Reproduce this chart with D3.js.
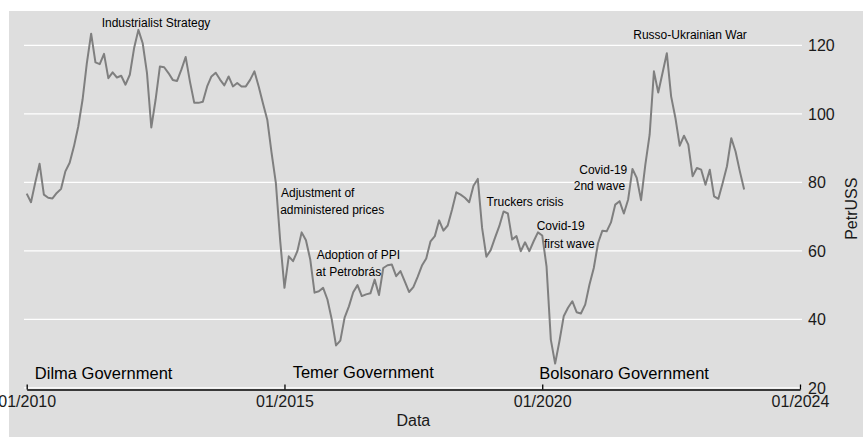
<!DOCTYPE html>
<html>
<head>
<meta charset="utf-8">
<script src="https://cdn.jsdelivr.net/npm/d3@7"></script>
<style>
    body { margin: 0; background: #fff; }
    svg { display: block; font-family: Arial, "Liberation Sans", sans-serif; }
</style>
</head>
<body>
<div class="graph"></div>
<script>
"use strict";

// Monthly PetrUSS, starting 01/2010 (index 0)
var petrUSS = [
    76.7, 74.2, 80.0, 85.4, 76.4, 75.5, 75.3, 76.9, 78.1, 83.2, 85.7, 90.5,
    96.3, 104.1, 114.8, 123.4, 115.0, 114.5, 117.5, 110.4, 112.1, 110.6, 111.1, 108.5,
    111.4, 119.2, 124.5, 120.6, 111.9, 96.0, 104.1, 113.8, 113.6, 111.9, 109.9, 109.6,
    112.9, 116.6, 109.4, 103.2, 103.2, 103.5, 108.0, 110.9, 112.0, 110.0, 108.3, 110.9,
    108.0, 109.0, 108.0, 108.0, 109.9, 112.4, 108.0, 103.0, 98.3, 88.6, 79.8, 63.0,
    49.2, 58.4, 57.0, 59.9, 65.4, 63.1, 57.5, 47.8, 48.2, 49.2, 45.8, 40.0,
    32.4, 33.8, 40.5, 43.8, 47.9, 50.0, 46.8, 47.3, 47.6, 51.6, 47.1, 55.0,
    55.8, 56.0, 52.6, 54.1, 51.1, 48.0, 49.4, 52.4, 55.7, 57.8, 62.8, 64.3,
    68.9, 65.9, 67.4, 72.0, 77.1, 76.4, 75.5, 74.2, 79.0, 81.0, 66.7, 58.3,
    60.2, 63.8, 67.2, 71.5, 70.9, 63.3, 64.3, 59.9, 62.5, 59.9, 62.8, 65.4,
    64.5, 55.5, 34.1, 27.1, 33.6, 40.9, 43.4, 45.3, 42.1, 41.7, 44.3, 50.2,
    55.0, 62.3, 65.9, 65.7, 68.3, 73.5, 74.5, 70.9, 75.0, 83.9, 81.3, 74.8,
    85.2, 93.9, 112.4, 106.2, 111.9, 117.7, 105.1, 98.8, 90.7, 93.6, 91.0, 81.8,
    84.2, 83.7, 79.3, 83.7, 75.9, 75.2, 79.8, 84.7, 92.9, 89.0, 83.2, 77.9
];

var xTickMonths = [0, 60, 120, 180];
var xTickLabels = ["01/2010", "01/2015", "01/2020", "01/2024"];
var yTicks = [20, 40, 60, 80, 100, 120];

// Event notes, placed in data units (month index, PetrUSS)
var noteText = ["Industrialist Strategy", "Russo-Ukrainian War", "Adjustment of", "administered prices",
    "Adoption of PPI", "at Petrobrás", "Truckers crisis", "Covid-19", "first wave", "Covid-19", "2nd wave"];
var noteMonth = [30.1, 154.4, 59.2, 59.0, 67.5, 67.3, 116.0, 124.3, 126.3, 139.8, 139.3];
var noteValue = [125.2, 121.7, 75.7, 70.8, 57.7, 52.8, 73.1, 66.0, 60.9, 82.5, 77.9];
var noteAnchor = ["middle", "middle", "start", "start", "start", "start", "middle", "middle", "middle", "end", "end"];

var govText = ["Dilma Government", "Temer Government", "Bolsonaro Government"];
var govMonth = [1.9, 61.9, 119.3];
var govValue = [22.5, 22.9, 22.7];

var width = 863;
var height = 437;

var svg = d3.select(".graph").append("svg:svg").attr("width", width).attr("height", height);

svg.append("rect").attr("x", 9).attr("y", 11).attr("width", width - 9).attr("height", height - 11).attr("fill", "#dedede");

var xScale = d3.scaleLinear().domain([0, 180]).range([26.7, 800]);
var yScale = d3.scaleLinear().domain([20, 120]).range([387.9, 45.3]);

// grid
svg.selectAll("line.grid").data(yTicks).enter().append("line").attr("class", "grid")
    .attr("x1", 24).attr("x2", 802)
    .attr("y1", function (d) { return yScale(d); })
    .attr("y2", function (d) { return yScale(d); })
    .attr("stroke", "#fff").attr("stroke-width", 1.2);

// right y axis labels
svg.selectAll("text.ytick").data(yTicks).enter().append("text").attr("class", "ytick")
    .attr("x", 808).attr("y", function (d) { return yScale(d); })
    .attr("dy", "0.36em").attr("font-size", 16).attr("fill", "#1a1a1a")
    .text(function (d) { return d; });

svg.append("text").attr("transform", "translate(856.5," + 208.7 + ") rotate(-90)")
    .attr("text-anchor", "middle").attr("font-size", 16).attr("fill", "#1a1a1a").text("PetrUSS");

// x axis, ticks pointing up into the panel
var xAxis = d3.axisBottom(xScale).tickValues(xTickMonths).tickSizeInner(-5).tickSizeOuter(0).tickPadding(10)
    .tickFormat(function (d, i) { return xTickLabels[i]; });
var xAxisG = svg.append("g").attr("transform", "translate(0,389.5)").call(xAxis);
xAxisG.select(".domain").attr("stroke", "#000").attr("stroke-width", 1.3);
xAxisG.selectAll(".tick line").attr("stroke", "#000").attr("stroke-width", 1.3);
xAxisG.selectAll(".tick text").attr("font-size", 16).attr("font-family", null).attr("fill", "#1a1a1a").attr("dy", "0.45em");

svg.append("text").attr("x", (xScale(0) + xScale(180)) / 2).attr("y", 426)
    .attr("text-anchor", "middle").attr("font-size", 16).attr("fill", "#1a1a1a").text("Data");

// the series
var line = d3.line()
    .x(function (d, i) { return xScale(i); })
    .y(function (d) { return yScale(d); });

svg.append("path").datum(petrUSS).attr("d", line)
    .attr("fill", "none").attr("stroke", "#7f7f7f").attr("stroke-width", 2).attr("stroke-linejoin", "round");

// notes
svg.selectAll("text.note").data(noteText).enter().append("text").attr("class", "note")
    .attr("x", function (_, i) { return xScale(noteMonth[i]); })
    .attr("y", function (_, i) { return yScale(noteValue[i]); })
    .attr("text-anchor", function (_, i) { return noteAnchor[i]; })
    .attr("font-size", 12).attr("fill", "#000")
    .text(function (d) { return d; });

svg.selectAll("text.gov").data(govText).enter().append("text").attr("class", "gov")
    .attr("x", function (_, i) { return xScale(govMonth[i]); })
    .attr("y", function (_, i) { return yScale(govValue[i]); })
    .attr("font-size", 16.5).attr("fill", "#000")
    .text(function (d) { return d; });
</script>
</body>
</html>
